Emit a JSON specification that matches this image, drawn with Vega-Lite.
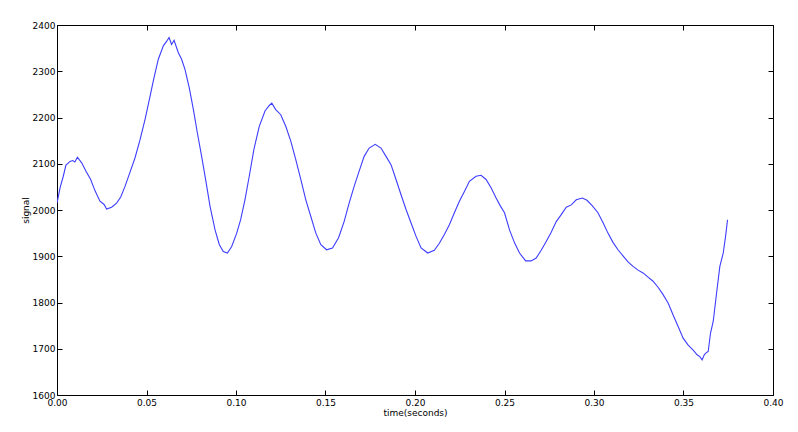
{
  "$schema": "https://vega.github.io/schema/vega-lite/v6.json",
  "autosize": "none",
  "width": 716,
  "height": 370,
  "padding": {"left": 57, "top": 25, "right": 25, "bottom": 37},
  "background": "white",
  "config": {
    "view": {"stroke": "black", "strokeWidth": 1},
    "font": "DejaVu Sans",
    "axis": {
      "grid": false,
      "domain": false,
      "tickColor": "black",
      "tickSize": -5,
      "labelFlush": false,
      "labelOverlap": false,
      "labelFont": "DejaVu Sans",
      "labelFontSize": 9,
      "labelColor": "black",
      "titleFont": "DejaVu Sans",
      "titleFontSize": 9,
      "titleFontWeight": "normal",
      "titleColor": "black"
    }
  },
  "data": {
    "values": [
      {"t": 0.0, "v": 2015}, {"t": 0.0017, "v": 2048}, {"t": 0.0035, "v": 2073}, {"t": 0.005, "v": 2097},
      {"t": 0.0073, "v": 2105}, {"t": 0.0088, "v": 2107}, {"t": 0.0100, "v": 2104}, {"t": 0.0114, "v": 2114},
      {"t": 0.0138, "v": 2102}, {"t": 0.0162, "v": 2084}, {"t": 0.0188, "v": 2066}, {"t": 0.0212, "v": 2042},
      {"t": 0.024, "v": 2019}, {"t": 0.0263, "v": 2012}, {"t": 0.0277, "v": 2002}, {"t": 0.0305, "v": 2006},
      {"t": 0.0333, "v": 2015}, {"t": 0.0356, "v": 2028}, {"t": 0.038, "v": 2051}, {"t": 0.0408, "v": 2082},
      {"t": 0.0436, "v": 2113}, {"t": 0.0464, "v": 2152}, {"t": 0.0492, "v": 2196}, {"t": 0.052, "v": 2246},
      {"t": 0.0542, "v": 2286}, {"t": 0.0566, "v": 2326}, {"t": 0.0594, "v": 2355}, {"t": 0.0613, "v": 2365},
      {"t": 0.0626, "v": 2373}, {"t": 0.064, "v": 2358}, {"t": 0.0654, "v": 2367}, {"t": 0.0678, "v": 2340},
      {"t": 0.0696, "v": 2326}, {"t": 0.0715, "v": 2304}, {"t": 0.0739, "v": 2264}, {"t": 0.0762, "v": 2217},
      {"t": 0.0784, "v": 2167}, {"t": 0.0808, "v": 2116}, {"t": 0.0832, "v": 2062}, {"t": 0.0855, "v": 2008},
      {"t": 0.0883, "v": 1957}, {"t": 0.0907, "v": 1925}, {"t": 0.0929, "v": 1910}, {"t": 0.0952, "v": 1907},
      {"t": 0.0976, "v": 1921}, {"t": 0.1004, "v": 1950}, {"t": 0.1026, "v": 1979}, {"t": 0.105, "v": 2022},
      {"t": 0.1074, "v": 2073}, {"t": 0.11, "v": 2131}, {"t": 0.113, "v": 2181}, {"t": 0.1162, "v": 2214},
      {"t": 0.1186, "v": 2226}, {"t": 0.1200, "v": 2231}, {"t": 0.1222, "v": 2217}, {"t": 0.125, "v": 2206},
      {"t": 0.1278, "v": 2181}, {"t": 0.1306, "v": 2149}, {"t": 0.1334, "v": 2109}, {"t": 0.1362, "v": 2066},
      {"t": 0.139, "v": 2022}, {"t": 0.1418, "v": 1986}, {"t": 0.1446, "v": 1950}, {"t": 0.1474, "v": 1925},
      {"t": 0.1506, "v": 1914}, {"t": 0.1539, "v": 1918}, {"t": 0.1573, "v": 1940}, {"t": 0.1604, "v": 1975},
      {"t": 0.1632, "v": 2015}, {"t": 0.166, "v": 2051}, {"t": 0.1688, "v": 2084}, {"t": 0.1716, "v": 2116},
      {"t": 0.1744, "v": 2134}, {"t": 0.1778, "v": 2142}, {"t": 0.181, "v": 2134}, {"t": 0.1838, "v": 2116},
      {"t": 0.1866, "v": 2098}, {"t": 0.1894, "v": 2066}, {"t": 0.1922, "v": 2033}, {"t": 0.195, "v": 2001},
      {"t": 0.1978, "v": 1972}, {"t": 0.2006, "v": 1943}, {"t": 0.2034, "v": 1918}, {"t": 0.2071, "v": 1907},
      {"t": 0.2108, "v": 1913}, {"t": 0.2136, "v": 1928}, {"t": 0.2164, "v": 1947}, {"t": 0.2192, "v": 1968},
      {"t": 0.222, "v": 1994}, {"t": 0.2248, "v": 2019}, {"t": 0.2276, "v": 2040}, {"t": 0.2304, "v": 2062},
      {"t": 0.2341, "v": 2073}, {"t": 0.2369, "v": 2075}, {"t": 0.2397, "v": 2066}, {"t": 0.2425, "v": 2048},
      {"t": 0.2453, "v": 2026}, {"t": 0.2475, "v": 2010}, {"t": 0.25, "v": 1994}, {"t": 0.2528, "v": 1957},
      {"t": 0.2556, "v": 1929}, {"t": 0.2584, "v": 1907}, {"t": 0.2618, "v": 1890}, {"t": 0.2649, "v": 1890},
      {"t": 0.2677, "v": 1896}, {"t": 0.2705, "v": 1913}, {"t": 0.2733, "v": 1932}, {"t": 0.2761, "v": 1952},
      {"t": 0.2789, "v": 1975}, {"t": 0.2817, "v": 1990}, {"t": 0.2845, "v": 2006}, {"t": 0.2873, "v": 2011},
      {"t": 0.2901, "v": 2022}, {"t": 0.2935, "v": 2026}, {"t": 0.2961, "v": 2021}, {"t": 0.2991, "v": 2009},
      {"t": 0.3022, "v": 1994}, {"t": 0.305, "v": 1973}, {"t": 0.3078, "v": 1950}, {"t": 0.3106, "v": 1930},
      {"t": 0.3134, "v": 1914}, {"t": 0.3162, "v": 1901}, {"t": 0.319, "v": 1888}, {"t": 0.3218, "v": 1878},
      {"t": 0.3246, "v": 1870}, {"t": 0.3274, "v": 1864}, {"t": 0.3302, "v": 1855}, {"t": 0.333, "v": 1846},
      {"t": 0.3358, "v": 1833}, {"t": 0.3386, "v": 1817}, {"t": 0.3414, "v": 1799}, {"t": 0.3442, "v": 1773},
      {"t": 0.347, "v": 1748}, {"t": 0.3498, "v": 1723}, {"t": 0.3526, "v": 1708}, {"t": 0.3554, "v": 1697},
      {"t": 0.3576, "v": 1687}, {"t": 0.3591, "v": 1683}, {"t": 0.3604, "v": 1676}, {"t": 0.3616, "v": 1687},
      {"t": 0.3629, "v": 1692}, {"t": 0.3638, "v": 1694}, {"t": 0.3651, "v": 1734}, {"t": 0.3666, "v": 1759},
      {"t": 0.3685, "v": 1821}, {"t": 0.3703, "v": 1878}, {"t": 0.3722, "v": 1907}, {"t": 0.3735, "v": 1943},
      {"t": 0.3746, "v": 1979}
    ]
  },
  "layer": [
    {
      "mark": {"type": "line", "color": "#3d3dff", "strokeWidth": 1.1, "clip": true},
      "encoding": {
        "x": {"field": "t", "type": "quantitative", "scale": {"domain": [0, 0.4], "nice": false, "zero": false},
              "axis": {"title": "time(seconds)", "values": [0, 0.05, 0.1, 0.15, 0.2, 0.25, 0.3, 0.35, 0.4], "format": ".2f", "labelPadding": 8, "titlePadding": 1}},
        "y": {"field": "v", "type": "quantitative", "scale": {"domain": [1600, 2400], "nice": false, "zero": false},
              "axis": {"title": "signal", "values": [1600, 1700, 1800, 1900, 2000, 2100, 2200, 2300, 2400], "format": "d", "labelPadding": 7, "titlePadding": 2}},
        "order": {"field": "t", "type": "quantitative"}
      }
    },
    {
      "mark": {"type": "line", "strokeOpacity": 0},
      "encoding": {
        "x": {"field": "t", "type": "quantitative", "scale": {"domain": [0, 0.4], "nice": false, "zero": false},
              "axis": {"orient": "top", "labels": false, "title": null, "values": [0, 0.05, 0.1, 0.15, 0.2, 0.25, 0.3, 0.35, 0.4]}},
        "y": {"field": "v", "type": "quantitative", "scale": {"domain": [1600, 2400], "nice": false, "zero": false},
              "axis": {"orient": "right", "labels": false, "title": null, "values": [1600, 1700, 1800, 1900, 2000, 2100, 2200, 2300, 2400]}}
      }
    }
  ],
  "resolve": {"axis": {"x": "independent", "y": "independent"}}
}
